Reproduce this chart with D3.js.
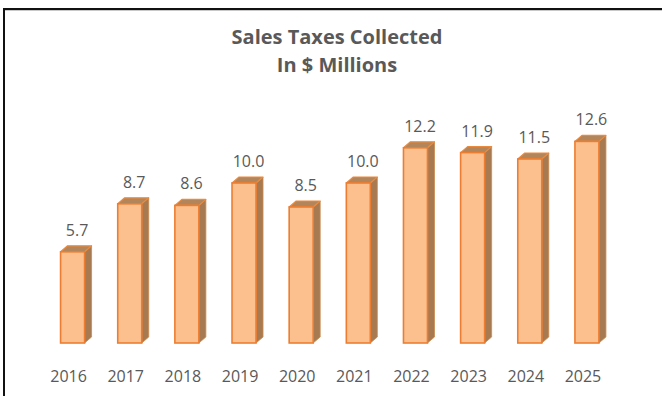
<!DOCTYPE html>
<html>
<head>
<meta charset="utf-8">
<script src="https://cdn.jsdelivr.net/npm/d3@7"></script>
<style>
  html, body { margin: 0; padding: 0; background: #fff; }
  svg { display: block; }
</style>
</head>
<body>
<svg id="chart" width="662" height="396"></svg>
<script>
// Sales taxes collected per year, in $ millions
const years = ["2016", "2017", "2018", "2019", "2020", "2021", "2022", "2023", "2024", "2025"];
const sales = [5.7, 8.7, 8.6, 10.0, 8.5, 10.0, 12.2, 11.9, 11.5, 12.6];
const titleLines = ["Sales Taxes Collected", "In $ Millions"];

const W = 662, H = 396;
const svg = d3.select("#chart");

// frame: dark edge along top and left, with a soft grey inner line
svg.append("line").attr("x1", 3).attr("x2", W).attr("y1", 9).attr("y2", 9)
  .attr("stroke", "#111").attr("stroke-width", 2);
svg.append("line").attr("x1", 5).attr("x2", W).attr("y1", 10.5).attr("y2", 10.5)
  .attr("stroke", "#c8c8c8").attr("stroke-width", 1);
svg.append("line").attr("x1", 4).attr("x2", 4).attr("y1", 8).attr("y2", H)
  .attr("stroke", "#111").attr("stroke-width", 2);

const x = d3.scaleBand()
  .domain(years)
  .range([44, 615.5])
  .paddingInner(0.58)
  .paddingOuter(0.29);

const y = d3.scaleLinear().domain([0, 14]).range([343, 119]);

// extrusion offset of the 3D boxes
const dx = 7, dy = 6;

const data = years.map((yr, i) => ({ year: yr, value: sales[i] }));

const bars = svg.append("g").selectAll("g.bar").data(data).join("g").attr("class", "bar");

// right side face
bars.append("path")
  .attr("d", d => {
    const xr = x(d.year) + x.bandwidth(), yt = y(d.value), yb = y(0);
    return `M${xr},${yt}L${xr + dx},${yt - dy}L${xr + dx},${yb - dy}L${xr},${yb}Z`;
  })
  .attr("fill", "#a87a52")
  .attr("stroke", "#c98a4e")
  .attr("stroke-width", 0.8)
  .attr("stroke-linejoin", "round");

// top face
bars.append("path")
  .attr("d", d => {
    const xl = x(d.year), xr = xl + x.bandwidth(), yt = y(d.value);
    return `M${xl},${yt}L${xl + dx},${yt - dy}L${xr + dx},${yt - dy}L${xr},${yt}Z`;
  })
  .attr("fill", "#b3855b")
  .attr("stroke", "#e98a3e")
  .attr("stroke-width", 1.2)
  .attr("stroke-linejoin", "round");

// front face
bars.append("rect")
  .attr("x", d => x(d.year))
  .attr("y", d => y(d.value))
  .attr("width", x.bandwidth())
  .attr("height", d => y(0) - y(d.value))
  .attr("fill", "#fbc08e")
  .attr("stroke", "#ed7d31")
  .attr("stroke-width", 1.6);

// value labels
bars.append("text")
  .attr("x", d => x(d.year) + x.bandwidth() / 2 + 4.5)
  .attr("y", d => y(d.value) - dy - 10)
  .attr("text-anchor", "middle")
  .attr("font-family", "'Open Sans', sans-serif")
  .attr("font-size", 16)
  .attr("fill", "#595959")
  .text(d => d3.format(".1f")(d.value));

// category axis labels
const axis = d3.axisBottom(x).tickSize(0).tickPadding(0);
const ax = svg.append("g").attr("transform", "translate(-4,382)").call(axis);
ax.select(".domain").remove();
ax.selectAll("text")
  .attr("dy", 0)
  .attr("font-family", "'Open Sans', sans-serif")
  .attr("font-size", 16)
  .attr("fill", "#595959");

// title
svg.append("g").selectAll("text").data(titleLines).join("text")
  .attr("x", 337)
  .attr("y", (d, i) => 44 + i * 28)
  .attr("text-anchor", "middle")
  .attr("font-family", "'Open Sans', sans-serif")
  .attr("font-weight", "bold")
  .attr("font-size", 20)
  .attr("fill", "#595959")
  .text(d => d);
</script>
</body>
</html>
